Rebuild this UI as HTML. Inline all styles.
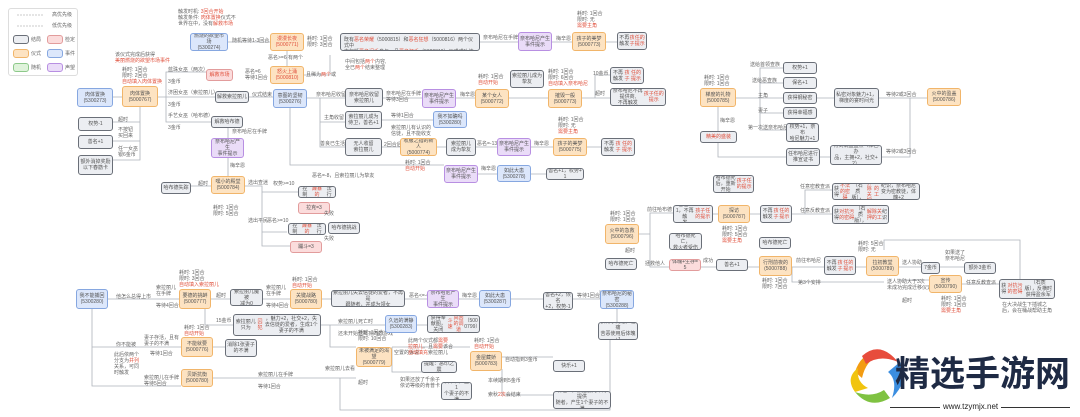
<!DOCTYPE html>
<html><head><meta charset="utf-8"><style>
body{margin:0;width:1080px;height:417px;background:#fff;position:relative;overflow:hidden;font-family:"Liberation Sans","Noto Sans CJK SC",sans-serif}
.b{position:absolute;box-sizing:border-box;border:1px solid #6a6f78;border-radius:3px;background:#eceef2;font-size:5px;line-height:6px;color:#555;display:flex;align-items:center;justify-content:center;text-align:center;padding:1px;overflow:hidden;word-break:break-all}
.o{background:#fde3c2;border-color:#f1b56a}
.u{background:#dce7fb;border-color:#86a7e0}
.p{background:#eadcf8;border-color:#b88fe2}
.k{background:#fbdcdc;border-color:#e29c9c}
.g{background:#dff3db;border-color:#8dc98a}
.t{position:absolute;font-size:5px;line-height:6px;color:#666;white-space:nowrap}
.r{color:#e0503c}
svg{position:absolute;left:0;top:0}
</style></head><body>
<svg width="1080" height="417" fill="none" stroke="#aeb3ba" stroke-width="0.8">
<path d="M113 97H122M158 97H166V72H206M166 97H211M166 97V122H211M211 97H215M249 97H273M140 107V160H113M140 122H113M140 141H113M228 122V138M228 158V176M211 186H191M245 186H262V192H298M262 186V232H287M245 186H262V246H290"/>
<path d="M228 42H270M287 51V66M304 75H330V55M307 98H320V98H350M320 98V122H350M320 98V147H350M290 108V165H444M383 98H422M456 98H475M509 98H548M582 98H595V75H610M595 98H610M480 42H518M552 42H572M606 42H617"/>
<path d="M382 120H433M382 147H400M437 147H446M476 147H497M531 147H553M587 147H601M478 174H497M531 174H546"/>
<path d="M736 98H760V68H783M760 98V83H783M760 98H783M760 98V113H783M760 98V130H786M817 98H834M879 98H927M718 107V131M718 131V157H786M820 157H830M882 157H910V98"/>
<path d="M639 234H650V213H673M650 234V267H669M713 214H718M750 214H760M792 214H805V190H832M805 214H832M701 267H716M748 267H759M792 267H824M856 267H866M899 267H921M940 267H964M899 280H929M962 284H999M884 250V240H1020V279M792 267V282H884"/>
<path d="M108 299H179M92 309V386H181M92 347H181M211 299H230M263 299H290M322 299H331M405 299H427M459 299H479M511 299H600V290M205 309V325H233M321 325H385M417 325H427M330 325V347H356M392 347H470M392 347V372H441M213 347H225M356 378H213M502 357H553M502 369V395H553M340 378V410H610V340M617 309V322"/>
</svg>
<div class="b" style="left:8px;top:8px;width:70px;height:68px;background:#fff;border-color:#ddd"></div>
<svg width="80" height="80" stroke="#bbb" stroke-width="0.8"><path d="M17 15H43M17 26H43" stroke-dasharray="2 1"/></svg>
<div class="t" style="left:52px;top:12px">高优先级</div><div class="t" style="left:52px;top:23px">低优先级</div>
<div class="b" style="left:13px;top:35px;width:16px;height:9px"></div><div class="t" style="left:31px;top:37px">结局</div>
<div class="b k" style="left:47px;top:35px;width:16px;height:9px"></div><div class="t" style="left:65px;top:37px">检定</div>
<div class="b o" style="left:13px;top:49px;width:16px;height:9px"></div><div class="t" style="left:31px;top:51px">仪式</div>
<div class="b u" style="left:47px;top:49px;width:16px;height:9px"></div><div class="t" style="left:65px;top:51px">事件</div>
<div class="b g" style="left:13px;top:63px;width:16px;height:9px"></div><div class="t" style="left:31px;top:65px">随机</div>
<div class="b p" style="left:47px;top:63px;width:16px;height:9px"></div><div class="t" style="left:65px;top:65px">声望</div>

<div class="t" style="left:115px;top:52px">该仪式完成后获得</div><div class="t r" style="left:115px;top:58px">美丽燃烧的欲望市场事件</div>
<div class="t" style="left:122px;top:67px">耗时: 1回合<br>限时: 2回合<br><span class="r">自动填入肉体置换</span></div>
<div class="b u" style="left:77px;top:88px;width:36px;height:19px">肉体置换<br>(5300273)</div>
<div class="b o" style="left:122px;top:86px;width:36px;height:21px">肉体置换<br>(5000767)</div>
<div class="b" style="left:78px;top:117px;width:35px;height:14px">权势-1</div>
<div class="b" style="left:78px;top:135px;width:35px;height:14px">善名+1</div>
<div class="b" style="left:78px;top:155px;width:35px;height:20px">额外消掉奖励<br>以下春筋卡</div>
<div class="t" style="left:118px;top:117px">超时</div><div class="t" style="left:118px;top:127px">不按钮<br>买回来</div><div class="t" style="left:118px;top:146px">任一女巫<br>银6金币</div>

<div class="t" style="left:178px;top:9px">触发时机: <span class="r">3回合开始</span><br>触发条件: <span class="r">肉体置换</span>仪式不<br>世界在中，没有<span class="r">解救市场</span></div>
<div class="b u" style="left:190px;top:33px;width:38px;height:18px">燃烧的欲望市场<br>(5300274)</div>
<div class="t" style="left:232px;top:38px">随机等待1-3回合</div>
<div class="b o" style="left:270px;top:33px;width:34px;height:18px"><span class="r">漫漫长夜<br>(5000771)</span></div>
<div class="t" style="left:307px;top:36px">耗时: 1回合<br>限时: 3回合</div>
<div class="t" style="left:268px;top:55px">恶名&gt;=6 有两个</div>
<div class="b o" style="left:270px;top:66px;width:34px;height:18px"><span class="r">怒火上涌<br>(5000810)</span></div>
<div class="t" style="left:306px;top:72px">且稀为<span class="r">两个</span>或</div>
<div class="t" style="left:168px;top:67px">蓝珠女巫（两次）<br><br>3金币</div>
<div class="b k" style="left:206px;top:69px;width:27px;height:12px"><span class="r">解救市场</span></div>
<div class="t" style="left:245px;top:69px">恶名=6<br>等待1回合</div>
<div class="t" style="left:168px;top:90px">济困女巫（索拉丽儿）<br><br>3金币</div>
<div class="b" style="left:215px;top:91px;width:34px;height:12px">解救索拉丽儿</div>
<div class="t" style="left:252px;top:92px">仪式结束</div>
<div class="b u" style="left:273px;top:89px;width:34px;height:19px">意图的坚韧<br>(5300276)</div>
<div class="t" style="left:168px;top:113px">手艺女巫（哈布德）<br><br>3金币</div>
<div class="b" style="left:211px;top:116px;width:32px;height:12px">解救哈布德</div>
<div class="t" style="left:232px;top:129px">奈布哈尼在手牌</div>
<div class="b p" style="left:211px;top:138px;width:33px;height:20px">奈布哈尼产生<br>事件提示</div>
<div class="t" style="left:230px;top:163px">梅辛恩</div>
<div class="b o" style="left:211px;top:176px;width:34px;height:18px">嘿小的殿堂<br>(5000784)</div>
<div class="b" style="left:161px;top:182px;width:30px;height:12px">哈布德失踪</div>
<div class="t" style="left:198px;top:181px">超时</div>
<div class="t" style="left:213px;top:205px">耗时: 1回合<br>限时: 5回合</div>
<div class="t" style="left:248px;top:180px">选出查迷</div><div class="t" style="left:273px;top:181px">权势&gt;=10</div>
<div class="b" style="left:298px;top:186px;width:38px;height:12px">控制<span class="r">躁暴的</span>法行</div>
<div class="b k" style="left:298px;top:202px;width:32px;height:12px">拉克=3</div>
<div class="t" style="left:248px;top:218px">选出平民</div><div class="t" style="left:267px;top:218px">恶名&gt;=10</div>
<div class="b" style="left:288px;top:223px;width:38px;height:12px">控制<span class="r">躁暴的</span>法行</div>
<div class="b k" style="left:290px;top:241px;width:32px;height:12px">蹦斗=3</div>
<div class="t" style="left:324px;top:211px">失败</div><div class="t" style="left:324px;top:236px">失败</div>
<div class="b" style="left:328px;top:222px;width:32px;height:12px">哈布德挑战</div>
<div class="t" style="left:312px;top:173px">恶名=-8，且索拉丽儿为挚友</div>

<div class="b" style="left:340px;top:33px;width:140px;height:18px;display:block;text-align:left;padding:3px">既有<span class="r">恶名荣耀</span>（5000815）和<span class="r">恶名狂想</span>（5000816）两个仪式中<br>中包括<span class="r">恶名闲手</span>参与，且<span class="r">恶名狂手</span>（5000819）仪式成功结束</div>
<div class="t" style="left:345px;top:59px">中间包括<span class="r">两个</span>内容,<br>全已<span class="r">两个</span>结束整理</div>
<div class="t" style="left:483px;top:35px">奈布哈尼在手牌</div>
<div class="b p" style="left:518px;top:32px;width:34px;height:19px">奈布哈尼产生<br>事件提示</div>
<div class="t" style="left:556px;top:36px">梅辛恩</div>
<div class="t" style="left:577px;top:11px">耗时: 1回合<br>限时: 无<br><span class="r">需要主角</span></div>
<div class="b o" style="left:572px;top:32px;width:34px;height:19px">孩子的美梦<br>(5000773)</div>
<div class="b" style="left:617px;top:32px;width:30px;height:18px">不再触发<span class="r">孩子</span><br><span class="r">任的提示</span></div>

<div class="b" style="left:345px;top:88px;width:38px;height:19px">奈布哈尼收留<br>索拉丽儿</div>
<div class="t" style="left:386px;top:91px">奈布哈尼在手牌<br>等待3回合</div>
<div class="b p" style="left:422px;top:89px;width:34px;height:19px">奈布哈尼产生<br>事件提示</div>
<div class="t" style="left:460px;top:92px">梅辛恩</div>
<div class="t" style="left:478px;top:74px">耗时: 1回合<br><span class="r">自动开始</span></div>
<div class="b o" style="left:475px;top:89px;width:34px;height:19px">某个女人<br>(5000772)</div>
<div class="b" style="left:510px;top:70px;width:34px;height:18px">索拉丽儿成为<br>挚友</div>
<div class="t" style="left:548px;top:69px">耗时: 1回合<br>限时: 6回合<br><span class="r">自动填入奈布哈尼</span></div>
<div class="b o" style="left:548px;top:89px;width:34px;height:19px">摧毁一般<br>(5000773)</div>
<div class="t" style="left:593px;top:71px">10金币</div><div class="t" style="left:595px;top:91px">超时</div>
<div class="b" style="left:610px;top:67px;width:34px;height:17px">不再触发<span class="r">孩子</span><br><span class="r">任的提示</span></div>
<div class="b" style="left:610px;top:88px;width:56px;height:18px">奈布哈尼不再提供商,<br>不再触发<span class="r">孩子任的提示</span></div>
<div class="t" style="left:316px;top:92px">奈布哈尼收留</div>
<div class="t" style="left:324px;top:115px">主角收留</div>
<div class="b" style="left:345px;top:111px;width:37px;height:18px">索拉丽儿成为<br>侍卫，善名+1</div>
<div class="t" style="left:391px;top:113px">等待1回合<br><br>索拉丽儿有认识的<br>信徒，且不能收支</div>
<div class="b u" style="left:433px;top:111px;width:34px;height:17px">我不如确吗<br>(5300280)</div>
<div class="t" style="left:320px;top:141px">善良已生活</div>
<div class="b" style="left:345px;top:138px;width:37px;height:18px">无人收留<br>索拉丽儿</div>
<div class="t" style="left:384px;top:142px">2回合后</div>
<div class="b o" style="left:400px;top:138px;width:37px;height:18px">收服之指的新人<br>(5000774)</div>
<div class="t" style="left:405px;top:160px">耗时: 1回合<br><span class="r">自动开始</span></div>
<div class="b" style="left:446px;top:138px;width:30px;height:18px">索拉丽儿<br>成为挚友</div>
<div class="t" style="left:477px;top:141px">恶名=-13</div>
<div class="b p" style="left:497px;top:138px;width:34px;height:18px">奈布哈尼产生<br>事件提示</div>
<div class="t" style="left:534px;top:141px">梅辛恩</div>
<div class="t" style="left:558px;top:117px">耗时: 1回合<br>限时: 无<br><span class="r">需要主角</span></div>
<div class="b o" style="left:553px;top:138px;width:34px;height:18px">孩子的美梦<br>(5000775)</div>
<div class="b" style="left:601px;top:138px;width:34px;height:18px">不再触发<span class="r">孩子</span><br><span class="r">任的提示</span></div>
<div class="b p" style="left:444px;top:165px;width:34px;height:18px">奈布哈尼产生<br>事件提示</div>
<div class="t" style="left:481px;top:166px">梅辛恩</div>
<div class="b u" style="left:497px;top:165px;width:34px;height:17px">如此大患<br>(5300278)</div>
<div class="b" style="left:546px;top:168px;width:38px;height:12px">善名+1，权势+1</div>

<div class="t" style="left:704px;top:75px">耗时: 1回合<br>限时: 1回合</div>
<div class="b o" style="left:700px;top:88px;width:36px;height:19px">梯度的礼物<br>(5000785)</div>
<div class="t" style="left:750px;top:62px">送给首领查族</div>
<div class="b" style="left:783px;top:62px;width:34px;height:12px">权势+1</div>
<div class="t" style="left:752px;top:78px">送给恶查族</div>
<div class="b" style="left:783px;top:77px;width:34px;height:12px">保名+1</div>
<div class="t" style="left:758px;top:93px">主角</div>
<div class="b" style="left:783px;top:92px;width:34px;height:12px">获得钢秘密</div>
<div class="t" style="left:758px;top:108px">妻子</div>
<div class="b" style="left:783px;top:107px;width:34px;height:12px">获得幸福感</div>
<div class="t" style="left:748px;top:125px">第一次送奈布哈尼</div>
<div class="b" style="left:786px;top:123px;width:33px;height:19px">权势+1，奈布<br>哈尼魅力+1</div>
<div class="t" style="left:720px;top:118px">梅辛恩</div>
<div class="b" style="left:834px;top:88px;width:45px;height:20px">私密对象魅力+1，<br>梯度的宴时间光</div>
<div class="t" style="left:886px;top:92px">等待2或3回合</div>
<div class="b o" style="left:927px;top:88px;width:34px;height:18px">火中的盈盖<br>(5000786)</div>
<div class="b" style="left:700px;top:131px;width:37px;height:12px"><span class="r">精美的盛装</span></div>
<div class="b" style="left:786px;top:148px;width:34px;height:18px">任布哈尼进行<br>推宣证书</div>
<div class="b" style="left:830px;top:145px;width:52px;height:20px">得到满盈盘点（梯色办<br>品，主拥+2，社交+2）</div>
<div class="t" style="left:886px;top:149px">等待2或3回合</div>

<div class="b" style="left:713px;top:175px;width:41px;height:18px">哈布德死后，重新<br>开始<span class="r">孩子任的提示</span></div>
<div class="t" style="left:610px;top:211px">耗时: 1回合<br>限时: 1回合</div>
<div class="b o" style="left:605px;top:224px;width:34px;height:20px">火中的急救<br>(5000796)</div>
<div class="t" style="left:647px;top:207px">前往哈布德</div>
<div class="b" style="left:673px;top:205px;width:40px;height:18px">善名+1，不再触<br>发<span class="r">孩子任的提示</span></div>
<div class="b o" style="left:718px;top:205px;width:32px;height:18px">探访<br>(5000787)</div>
<div class="t" style="left:722px;top:226px">耗时: 1回合<br>限时: 5回合<br><span class="r">需要主角</span></div>
<div class="b" style="left:760px;top:205px;width:32px;height:18px">不再触发<span class="r">孩子</span><br><span class="r">任的提示</span></div>
<div class="t" style="left:800px;top:184px">任意密教查派</div>
<div class="b" style="left:832px;top:183px;width:88px;height:17px">获得<span class="r">不法的密碍</span>（石质版），<span class="r">解除关押</span><br><span class="r">的工</span>纪识，奈布哈尼变为密教徒，体魄+2</div>
<div class="t" style="left:800px;top:208px">任意反教查派</div>
<div class="b" style="left:832px;top:205px;width:57px;height:19px">获得<span class="r">对抗污的密碍</span>（石质<br>版），<span class="r">解除关押的工</span>纪识</div>
<div class="b" style="left:605px;top:258px;width:32px;height:12px">哈布德死亡</div>
<div class="t" style="left:625px;top:248px">超时</div>
<div class="b" style="left:669px;top:233px;width:33px;height:17px">哈布德死亡，<br>救火者受伤</div>
<div class="b k" style="left:669px;top:259px;width:32px;height:12px">体魄+生存=5</div>
<div class="t" style="left:645px;top:261px">拯救他人</div><div class="t" style="left:703px;top:258px">成功</div>
<div class="b" style="left:716px;top:259px;width:32px;height:12px">善名+1</div>
<div class="b" style="left:759px;top:237px;width:32px;height:12px">哈布德死亡</div>
<div class="b o" style="left:759px;top:256px;width:33px;height:20px">行刑前夜的<br>(5000788)</div>
<div class="t" style="left:762px;top:278px">耗时: 1回合<br>限时: 7回合</div>
<div class="t" style="left:796px;top:258px">前往布哈尼</div>
<div class="t" style="left:798px;top:280px">第3个安排</div>
<div class="b" style="left:824px;top:256px;width:32px;height:19px">不再触发<span class="r">孩子</span><br><span class="r">任的提示</span></div>
<div class="t" style="left:858px;top:241px">耗时: 5回合<br>限时: 无</div>
<div class="b o" style="left:866px;top:256px;width:33px;height:20px">拉初教堂<br>(5000789)</div>
<div class="t" style="left:902px;top:260px">送人协助</div>
<div class="b" style="left:921px;top:262px;width:19px;height:12px">7金币</div>
<div class="t" style="left:945px;top:250px">如果送了<br>奈布哈尼</div>
<div class="b" style="left:964px;top:262px;width:32px;height:12px">额外3金币</div>
<div class="t" style="left:887px;top:279px">送人协助大于3次<br>未成功完成迁移仪式</div>
<div class="t" style="left:902px;top:298px">超时</div>
<div class="b o" style="left:929px;top:275px;width:33px;height:18px">宣传<br>(5000790)</div>
<div class="t" style="left:941px;top:296px">耗时: 1回合<br>限时: 1回合<br><span class="r">需要主角</span></div>
<div class="t" style="left:966px;top:280px">任意反教查派</div>
<div class="b" style="left:999px;top:279px;width:56px;height:20px">获得<span class="r">对抗污的密碍</span>（石质<br>版），反横时获得盈余军</div>
<div class="t" style="left:1002px;top:302px">在大决战生下插城之<br>后，会在桶战帮助主角</div>
<div class="b" style="left:543px;top:292px;width:30px;height:18px">善名+2，恢名<br>+2，权势-1</div>
<div class="t" style="left:577px;top:293px">等待1回合</div>
<div class="b u" style="left:600px;top:290px;width:34px;height:19px">奈布哈尼的秘密<br>(5300288)</div>
<div class="b" style="left:598px;top:322px;width:40px;height:18px">获得小药瓶，在痛<br>苦恶使用后体魄+1</div>

<div class="b u" style="left:76px;top:289px;width:32px;height:20px">我不能捕回<br>(5300280)</div>
<div class="t" style="left:116px;top:294px">他怎么总得上市</div>
<div class="t" style="left:156px;top:285px">索拉丽儿<br>在手牌<br><br>等待4回合</div>
<div class="t" style="left:179px;top:270px">耗时: 1回合<br>限时: 3回合<br><span class="r">自动填入索拉丽儿</span></div>
<div class="b o" style="left:179px;top:289px;width:32px;height:20px">要德的挑衅<br>(5000777)</div>
<div class="t" style="left:216px;top:293px">超时</div>
<div class="b" style="left:230px;top:289px;width:33px;height:17px">索拉丽儿魔被<br>减为0</div>
<div class="t" style="left:266px;top:285px">索拉丽儿<br>在手牌<br><br>等待4回合</div>
<div class="t" style="left:292px;top:277px">耗时: 1回合<br><span class="r">自动开始</span></div>
<div class="b o" style="left:290px;top:289px;width:32px;height:20px">关键战路<br>(5000780)</div>
<div class="b" style="left:331px;top:290px;width:74px;height:17px">索拉丽儿失去信徒的爱者，不再是<br>跟随者，并成为领女</div>
<div class="t" style="left:409px;top:293px">恶名&lt;=-6</div>
<div class="b p" style="left:427px;top:290px;width:32px;height:18px">奈布哈尼产生<br>事件提示</div>
<div class="t" style="left:462px;top:293px">梅辛恩</div>
<div class="b u" style="left:479px;top:290px;width:32px;height:18px">如此大患<br>(5300287)</div>
<div class="t" style="left:216px;top:318px">15金币</div>
<div class="b" style="left:233px;top:314px;width:88px;height:22px">索拉丽儿只为<span class="r">囚犯</span>，魅力+2，社交+2，失<br>去信徒的爱者，生成1个妻子的不满</div>
<div class="t" style="left:338px;top:319px">索拉丽儿死亡时<br><br>还未开始送离瓦内的游戏</div>
<div class="b u" style="left:385px;top:315px;width:32px;height:18px">久远的满静<br>(5300283)</div>
<div class="b" style="left:427px;top:315px;width:53px;height:18px">获得奉献图，关闭<span class="r">斗速</span><br><span class="r">真因的调道</span>（5000799）</div>
<div class="t" style="left:116px;top:342px">你不能被</div>
<div class="t" style="left:144px;top:335px">妻子存活，且有<br>妻子的不满</div>
<div class="t" style="left:150px;top:351px">等待1回合</div>
<div class="t" style="left:114px;top:352px">此后依两个<br>分支为<span class="r">并列</span><br>关系，可同<br>时触发</div>
<div class="t" style="left:184px;top:325px">耗时: 1回合<br><span class="r">自动开始</span></div>
<div class="b o" style="left:181px;top:337px;width:32px;height:20px">不能就要<br>(5000776)</div>
<div class="b" style="left:225px;top:339px;width:32px;height:18px">消除1张妻子<br>的不满</div>
<div class="t" style="left:325px;top:366px">索拉丽儿去看</div>
<div class="t" style="left:358px;top:330px">耗时: 1回合<br>限时: 10回合</div>
<div class="b o" style="left:356px;top:347px;width:36px;height:20px">未被满足的渴望<br>(5000779)</div>
<div class="t" style="left:394px;top:350px">空置的诉说</div>
<div class="t" style="left:408px;top:338px">此两个仪式都<span class="r">需要</span><br><span class="r">拉丽儿</span>。且<span class="r">需要</span>该合<br><span class="r">自动填充</span>索拉丽儿</div>
<div class="b" style="left:421px;top:361px;width:36px;height:12px">提醒：恶印之震</div>
<div class="t" style="left:474px;top:338px">耗时: 1回合<br><span class="r">自动开始</span></div>
<div class="b o" style="left:470px;top:351px;width:32px;height:20px">金屋藏娇<br>(5000783)</div>
<div class="t" style="left:505px;top:357px">自动指到3金币</div>
<div class="t" style="left:400px;top:377px">如果还放了千余子<br>依访等级的肯普卡</div>
<div class="b" style="left:441px;top:382px;width:31px;height:18px">决卡、产生1<br>个妻子的不满</div>
<div class="t" style="left:488px;top:378px">本续期到5金币</div>
<div class="t" style="left:488px;top:392px">索秋<span class="r">2次</span>会结束</div>
<div class="b" style="left:553px;top:360px;width:32px;height:12px">快乐+1</div>
<div class="b" style="left:553px;top:391px;width:58px;height:18px">保名-5，索拉丽儿不再提供<br>随者，产生1个妻子的不满</div>
<div class="t" style="left:144px;top:375px">索拉丽儿在手牌<br>等待5回合</div>
<div class="b o" style="left:181px;top:369px;width:32px;height:18px">贝斯抗衡<br>(5000780)</div>
<div class="t" style="left:258px;top:372px">索拉丽儿在手牌<br><br>等待1回合</div>
<div class="t" style="left:358px;top:380px">超时</div>

<svg width="1080" height="417" stroke="none">
<path d="M855 372 Q862 350 880 355 Q866 360 862 378Z" fill="#f39c12"/>
<path d="M862 356 Q880 340 898 362 Q880 354 866 364Z" fill="#e74c3c"/>
<path d="M900 362 Q910 380 892 398 Q898 380 888 372Z" fill="#3b8ee0"/>
<path d="M890 398 Q870 410 855 392 Q872 398 884 390Z" fill="#7fc241"/>
<path d="M855 392 Q845 378 858 368 Q856 382 868 388Z" fill="#f1c40f"/>
</svg>
<div class="t" style="left:895px;top:354px;font-size:35px;line-height:42px;color:#1e2a44;font-weight:bold">精选手游网</div>
<div style="position:absolute;left:890px;top:407px;width:180px;height:1px;background:#333"></div>
<div class="t" style="left:940px;top:402px;font-size:8px;line-height:10px;color:#222;background:#fff;padding:0 3px">www.tzymjx.net</div>
</body></html>
